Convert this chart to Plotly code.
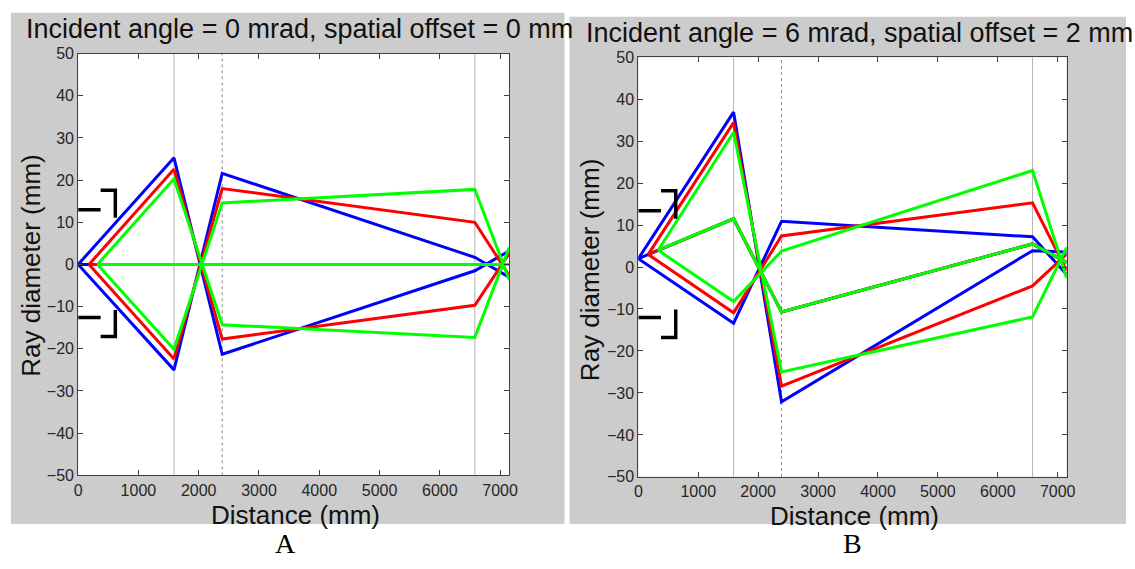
import plotly.graph_objects as go

W, H = 1135, 569

# ---------------- data ----------------
X_TICKS = [0, 1000, 2000, 3000, 4000, 5000, 6000, 7000]
Y_TICKS = [-50, -40, -30, -20, -10, 0, 10, 20, 30, 40, 50]
X_TICK_TEXT = ["0", "1000", "2000", "3000", "4000", "5000", "6000", "7000"]
Y_TICK_TEXT = ["\u221250", "\u221240", "\u221230", "\u221220", "\u221210", "0", "10", "20", "30", "40", "50"]

ELEMENTS_X = [1590, 2390, 6580]          # optical element positions (vertical lines)

# Panel A : incident angle 0 mrad, offset 0 mm
A_BLUE_X = [0, 1590, 2390, 6580, 7150]
A_BLUE_UP = [0, 25.3, -21.3, -1.5, 3.2]
A_BLUE_LO = [0, -25.0, 21.6, 1.7, -3.0]
A_BLUE_CEN = [0, 0, 0, 0, 0]
A_RED_X = [180, 1590, 2390, 6580, 7150]
A_RED_UP = [0, 22.6, -17.7, -9.7, 2.6]
A_RED_LO = [0, -22.4, 18.0, 10.0, -2.6]
A_RED_CEN = [0, 0, 0, 0, 0]
A_GREEN_X = [320, 1590, 2390, 6580, 7150]
A_GREEN_UP = [0, 20.3, -14.3, -17.3, 4.0]
A_GREEN_LO = [0, -20.1, 14.6, 17.8, -3.6]
A_GREEN_CEN = [0, 0, 0, 0, 0]

# Panel B : incident angle 6 mrad, offset 2 mm
B_BLUE_X = [0, 1590, 2390, 6580, 7150]
B_BLUE_UP = [2.0, 36.9, -32.1, 3.9, 3.6]
B_BLUE_LO = [2.0, -13.4, 10.9, 7.2, -1.8]
B_BLUE_CEN = [2.0, 11.5, -10.7, 5.5, 1.1]
B_RED_X = [165, 1590, 2390, 6580, 7150]
B_RED_UP = [3.0, 34.4, -28.4, -4.5, 3.1]
B_RED_LO = [3.0, -10.9, 7.4, 15.3, -0.9]
B_RED_CEN = [3.0, 11.5, -10.7, 5.5, 1.1]
B_GREEN_X = [330, 1590, 2390, 6580, 7150]
B_GREEN_UP = [4.0, 32.1, -25.0, -11.9, 4.7]
B_GREEN_LO = [4.0, -8.2, 3.8, 23.0, -2.6]
B_GREEN_CEN = [4.0, 11.5, -10.7, 5.5, 1.1]

# aperture bracket marks
A_STUB_X = [0, 373]
A_STUB_UP_Y = [13.0, 13.0]
A_STUB_LO_Y = [-12.6, -12.6]
A_BRK_UP_X = [373, 617, 617]
A_BRK_UP_Y = [17.6, 17.6, 11.1]
A_BRK_LO_X = [617, 617, 373]
A_BRK_LO_Y = [-10.8, -17.1, -17.1]

B_STUB_X = [0, 378]
B_STUB_UP_Y = [13.4, 13.4]
B_STUB_LO_Y = [-12.0, -12.0]
B_BRK_UP_X = [378, 624, 624]
B_BRK_UP_Y = [18.2, 18.2, 11.5]
B_BRK_LO_X = [624, 624, 378]
B_BRK_LO_Y = [-10.1, -16.8, -16.8]

TITLE_A = "Incident angle = 0 mrad, spatial offset = 0 mm"
TITLE_B = "Incident angle = 6 mrad, spatial offset = 2 mm"
X_LABEL = "Distance (mm)"
Y_LABEL = "Ray diameter (mm)"

# ---------------- figure ----------------
BLUE, RED, GREEN = "#0000ff", "#ff0000", "#00ff00"
SANS = "Liberation Sans, Arial, Helvetica, sans-serif"
SERIF = "Liberation Serif, Times New Roman, serif"
RAY_W = 3

fig = go.Figure()


def add_line(x, y, color, width, xa, ya, dash="solid"):
    fig.add_trace(go.Scatter(x=x, y=y, mode="lines", xaxis=xa, yaxis=ya,
                             line=dict(color=color, width=width, dash=dash),
                             showlegend=False, hoverinfo="skip"))


def panel(xa, ya, rays, stubs, brackets):
    # vertical element lines
    for i, ex in enumerate(ELEMENTS_X):
        add_line([ex, ex], [Y_TICKS[0], Y_TICKS[-1]],
                 "#8c8c8c" if i == 1 else "#b4b4b4", 1, xa, ya,
                 dash="dot" if i == 1 else "solid")
    for xs, ys_list, color in rays:
        for ys in ys_list:
            add_line(xs, ys, color, RAY_W, xa, ya)
    for xs, ys in stubs:
        add_line(xs, ys, "#000000", 3.5, xa, ya)
    for xs, ys in brackets:
        add_line(xs, ys, "#000000", 3.5, xa, ya)


panel("x", "y",
      [(A_BLUE_X, [A_BLUE_CEN, A_BLUE_UP, A_BLUE_LO], BLUE),
       (A_RED_X, [A_RED_CEN, A_RED_UP, A_RED_LO], RED),
       (A_GREEN_X, [A_GREEN_UP, A_GREEN_LO, A_GREEN_CEN], GREEN)],
      [(A_STUB_X, A_STUB_UP_Y), (A_STUB_X, A_STUB_LO_Y)],
      [(A_BRK_UP_X, A_BRK_UP_Y), (A_BRK_LO_X, A_BRK_LO_Y)])

panel("x2", "y2",
      [(B_BLUE_X, [B_BLUE_CEN, B_BLUE_UP, B_BLUE_LO], BLUE),
       (B_RED_X, [B_RED_CEN, B_RED_UP, B_RED_LO], RED),
       (B_GREEN_X, [B_GREEN_UP, B_GREEN_LO, B_GREEN_CEN], GREEN)],
      [(B_STUB_X, B_STUB_UP_Y), (B_STUB_X, B_STUB_LO_Y)],
      [(B_BRK_UP_X, B_BRK_UP_Y), (B_BRK_LO_X, B_BRK_LO_Y)])


def px(x):
    return x / W


def py(y):
    return 1 - y / H


axis_common = dict(showgrid=False, zeroline=False, showline=True, linecolor="#404040",
                   linewidth=1, mirror="ticks", ticks="inside", ticklen=5, tickwidth=1,
                   tickcolor="#404040", tickfont=dict(family=SANS, size=16, color="#262626"))

fig.update_layout(
    width=W, height=H, margin=dict(l=0, r=0, t=0, b=0),
    paper_bgcolor="white", plot_bgcolor="white", showlegend=False,
    xaxis=dict(domain=[px(75), px(511)], range=[0, 7150], tickvals=X_TICKS,
               ticktext=X_TICK_TEXT, anchor="y", **axis_common),
    yaxis=dict(domain=[py(481.7), py(47)], range=[-50, 50], tickvals=Y_TICKS,
               ticktext=Y_TICK_TEXT, anchor="x", **axis_common),
    xaxis2=dict(domain=[px(641.7), px(1075)], range=[0, 7150], tickvals=X_TICKS,
                ticktext=X_TICK_TEXT, anchor="y2", **axis_common),
    yaxis2=dict(domain=[py(483.3), py(50.7)], range=[-50, 50], tickvals=Y_TICKS,
                ticktext=Y_TICK_TEXT, anchor="x2", **axis_common),
)

shapes = [
    dict(type="rect", xref="paper", yref="paper", x0=px(7), x1=px(567), y0=py(532), y1=py(5),
         fillcolor="#cccccc", line=dict(width=0), layer="below"),
    dict(type="rect", xref="paper", yref="paper", x0=px(572), x1=1, y0=py(532), y1=py(9),
         fillcolor="#cccccc", line=dict(width=0), layer="below"),
    dict(type="rect", xref="x domain", yref="y domain", x0=0, x1=1, y0=0, y1=1,
         fillcolor="white", line=dict(width=0), layer="below"),
    dict(type="rect", xref="x2 domain", yref="y2 domain", x0=0, x1=1, y0=0, y1=1,
         fillcolor="white", line=dict(width=0), layer="below"),
]
fig.update_layout(shapes=shapes)

ann = []
ann.append(dict(text=TITLE_A, x=px(20), y=py(22), xref="paper", yref="paper",
                xanchor="left", yanchor="middle", align="left", showarrow=False,
                font=dict(family=SANS, size=27, color="#111111")))
ann.append(dict(text=TITLE_B, x=px(587), y=py(26), xref="paper", yref="paper",
                xanchor="left", yanchor="middle", align="left", showarrow=False,
                font=dict(family=SANS, size=27, color="#111111")))
for cx, cy in [(295, 523), (860, 524)]:
    ann.append(dict(text=X_LABEL, x=px(cx), y=py(cy), xref="paper", yref="paper",
                    xanchor="center", yanchor="middle", showarrow=False,
                    font=dict(family=SANS, size=26, color="#111111")))
for cx, cy in [(27, 266), (593, 270)]:
    ann.append(dict(text=Y_LABEL, x=px(cx), y=py(cy), xref="paper", yref="paper",
                    xanchor="center", yanchor="middle", textangle=-90, showarrow=False,
                    font=dict(family=SANS, size=26, color="#111111")))
for t, cx in [("A", 285), ("B", 858)]:
    ann.append(dict(text=t, x=px(cx), y=py(552), xref="paper", yref="paper",
                    xanchor="center", yanchor="middle", showarrow=False,
                    font=dict(family=SERIF, size=28, color="#000000")))
fig.update_layout(annotations=ann)

fig.write_html("out.html", config={"displayModeBar": False},
               post_script="document.body.style.margin='0';"
                           "document.body.style.overflow='hidden';")
